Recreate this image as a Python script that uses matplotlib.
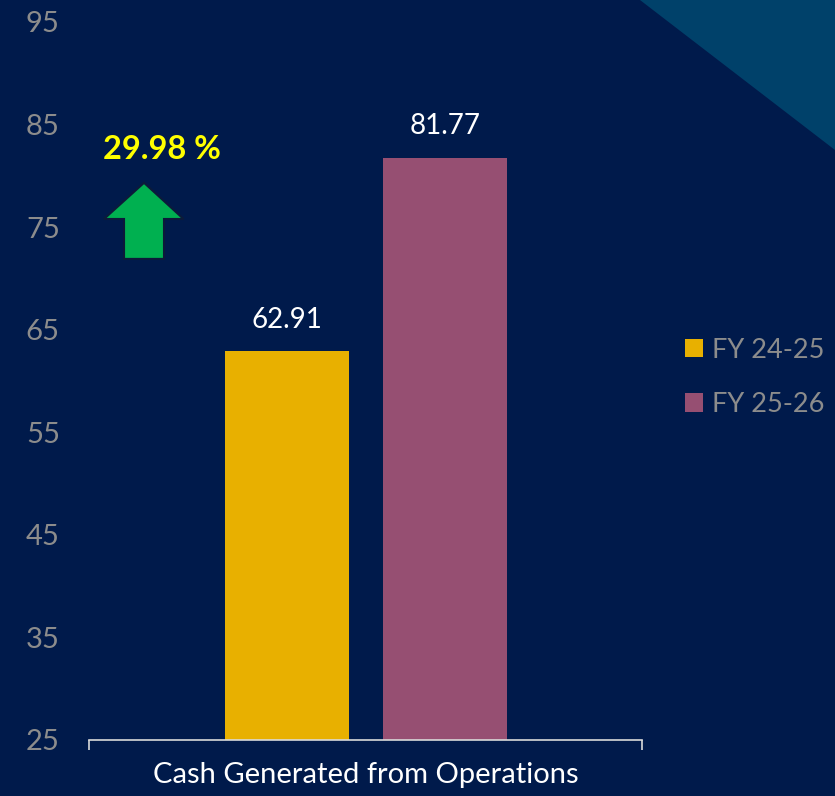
import matplotlib.pyplot as plt
from matplotlib.patches import Polygon

# data
category = "Cash Generated from Operations"
series = ["FY 24-25", "FY 25-26"]
values = [62.91, 81.77]
colors = ["#E8B000", "#964F72"]
growth_label = "29.98 %"
yticks = [25, 35, 45, 55, 65, 75, 85, 95]

bg = "#001A4B"
plt.rcParams['font.family'] = ['Lato', 'DejaVu Sans']

fig = plt.figure(figsize=(8.35, 7.96), dpi=100, facecolor=bg)

# corner triangle in the top right
fig.patches.append(Polygon([[0.766, 1.0], [1.0, 1.0], [1.0, 0.812]], closed=True,
                           transform=fig.transFigure, facecolor="#00416A",
                           edgecolor="none", zorder=0))

ax = fig.add_axes([0.1066, 0.0704, 0.6623, 0.902])
ax.set_facecolor("none")

width = 0.224
offsets = [-0.142, 0.144]
for name, v, c, off in zip(series, values, colors, offsets):
    ax.bar(off, v - 25, bottom=25, width=width, color=c, label=name)
    ax.text(off, v + 1.8, f"{v:.2f}", ha='center', va='bottom', color='white', fontsize=20)

ax.set_xlim(-0.5, 0.5)
ax.set_ylim(25, 95)
ax.set_yticks(yticks)
ax.tick_params(axis='y', length=0, pad=21, labelsize=21, labelcolor="#8C8C8C")

ax.set_xticks([0])
ax.set_xticklabels([category])
ax.tick_params(axis='x', which='major', length=0, pad=16, labelsize=21, labelcolor='white')
ax.set_xticks([-0.5, 0.5], minor=True)
ax.tick_params(axis='x', which='minor', length=7, width=1.2, color="#D9D9D9", direction='out')

for s in ['top', 'right', 'left']:
    ax.spines[s].set_visible(False)
ax.spines['bottom'].set_color("#D9D9D9")
ax.spines['bottom'].set_linewidth(1.2)

# growth arrow and label
ax.add_patch(Polygon([[0.0995, 0.776], [0.1709, 0.7256], [0.1356, 0.7256], [0.1356, 0.670],
                      [0.0633, 0.670], [0.0633, 0.7256], [0.0271, 0.7256]], closed=True,
                     transform=ax.transAxes, facecolor="#00B050", edgecolor="#0C1A3A",
                     linewidth=1.5, clip_on=False))
ax.text(0.132, 0.822, growth_label, transform=ax.transAxes, ha='center', va='center',
        color="#FFFF00", fontsize=23.5, fontweight='bold')

leg = fig.legend(loc='center left', bbox_to_anchor=(0.791, 0.526), frameon=False,
                 fontsize=19.5, handlelength=0.66, handleheight=0.66, handletextpad=0.33,
                 labelspacing=1.08)
for t in leg.get_texts():
    t.set_color("#8C8C8C")

fig.savefig("out.png", dpi=100, facecolor=bg)
